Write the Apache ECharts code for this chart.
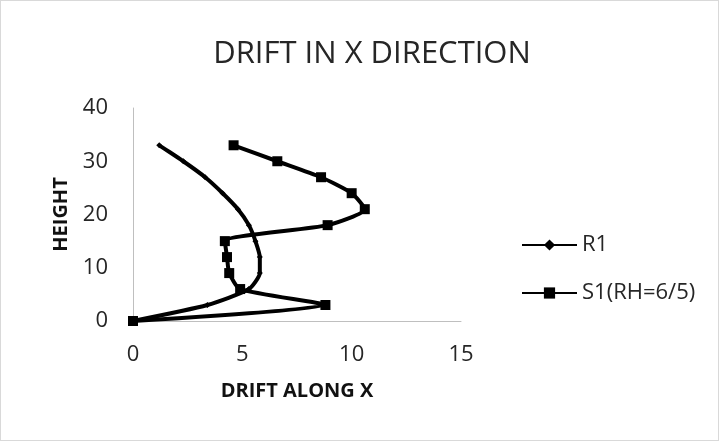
<!DOCTYPE html>
<html><head><meta charset="utf-8">
<script src="https://cdn.jsdelivr.net/npm/echarts@6/dist/echarts.min.js"></script>
<style>html,body{margin:0;padding:0;background:#fff}#c{width:719px;height:441px;box-sizing:border-box;border:1px solid #d9d9d9}</style>
</head><body><div id="c"></div>
<script>
const heights = [0, 3, 6, 9, 12, 15, 18, 21, 24, 27, 30, 33];
const r1Drift = [0, 3.4, 5.3, 5.8, 5.8, 5.6, 5.3, 4.8, 4.1, 3.3, 2.3, 1.2];
const s1Drift = [0, 8.8, 4.9, 4.4, 4.3, 4.2, 8.9, 10.6, 10.0, 8.6, 6.6, 4.6];
const seriesNames = ['R1', 'S1(RH=6/5)'];
const xTicks = [0, 5, 10, 15];
const yTicks = [0, 10, 20, 30, 40];

const font = 'Open Sans, Liberation Sans, sans-serif';
const chart = echarts.init(document.getElementById('c'));
chart.setOption({
  animation: false,
  title: {text: 'DRIFT IN X DIRECTION', left: 366, top: 33, textAlign: 'center',
    textStyle: {fontFamily: font, fontWeight: 'normal', fontSize: 31, color: '#262626'}},
  grid: {left: 132, right: 257, top: 107, bottom: 119},
  legend: {orient: 'vertical', left: 515, top: 228, itemGap: 26, itemWidth: 55, itemHeight: 14,
    textStyle: {fontFamily: font, fontSize: 22, color: '#262626'},
    data: seriesNames},
  xAxis: {type: 'value', min: xTicks[0], max: xTicks[xTicks.length-1], interval: 5,
    name: 'DRIFT ALONG X', nameLocation: 'middle', nameGap: 60,
    nameTextStyle: {fontFamily: font, fontWeight: 'bold', fontSize: 20, color: '#111'},
    axisLine: {show: true, lineStyle: {color: '#bfbfbf', width: 1}},
    axisTick: {show: false}, splitLine: {show: false},
    axisLabel: {fontFamily: font, fontSize: 22, color: '#262626', margin: 23}},
  yAxis: {type: 'value', min: yTicks[0], max: yTicks[yTicks.length-1], interval: 10,
    name: 'HEIGHT', nameLocation: 'middle', nameGap: 62, nameRotate: 90,
    nameTextStyle: {fontFamily: font, fontWeight: 'bold', fontSize: 20, color: '#111'},
    axisLine: {show: true, lineStyle: {color: '#bfbfbf', width: 1}},
    axisTick: {show: false}, splitLine: {show: false},
    axisLabel: {fontFamily: font, fontSize: 22, color: '#262626', margin: 25}},
  series: [
    {name: seriesNames[0], type: 'line', smooth: 0.2,
      data: heights.map((h, i) => [r1Drift[i], h]),
      symbol: 'diamond', symbolSize: 6, showAllSymbol: true,
      lineStyle: {color: '#000', width: 4}, itemStyle: {color: '#000'}},
    {name: seriesNames[1], type: 'line', smooth: 0.2,
      data: heights.map((h, i) => [s1Drift[i], h]),
      symbol: 'rect', symbolSize: 10, showAllSymbol: true,
      lineStyle: {color: '#000', width: 4}, itemStyle: {color: '#000'}}
  ]
});
</script></body></html>
